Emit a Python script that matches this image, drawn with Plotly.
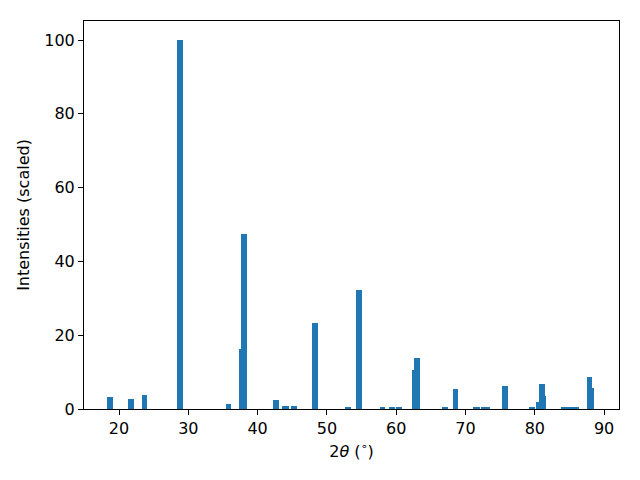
import plotly.graph_objects as go

two_theta = [18.70, 21.76, 23.68, 28.80, 35.80, 37.69, 38.04, 42.66, 43.96, 44.10,
             45.26, 48.29, 53.05, 54.64, 58.03, 59.40, 60.34, 62.72, 63.01, 67.05,
             68.56, 71.52, 71.70, 72.68, 73.11, 75.64, 79.61, 80.62, 80.98, 81.12,
             84.22, 84.73, 85.23, 85.96, 87.90, 88.12]
intensity = [3.2, 2.7, 3.8, 100.0, 1.4, 16.3, 47.4, 2.4, 0.9, 0.7,
             0.9, 23.3, 0.5, 32.2, 0.3, 0.6, 0.3, 10.6, 13.8, 0.3,
             5.4, 0.6, 0.4, 0.3, 0.3, 6.2, 0.3, 1.9, 6.8, 3.5,
             0.3, 0.3, 0.3, 0.3, 8.7, 5.7]
x_ticks = [20, 30, 40, 50, 60, 70, 80, 90]
y_ticks = [0, 20, 40, 60, 80, 100]

fig = go.Figure()
fig.add_trace(go.Bar(x=two_theta, y=intensity, width=0.85,
                     marker=dict(color="#1f77b4", line=dict(width=0))))

axis_common = dict(showline=True, linecolor="black", linewidth=1, mirror=True,
                   ticks="outside", ticklen=5, tickwidth=1, tickcolor="black",
                   showgrid=False, zeroline=False, automargin=False,
                   tickfont=dict(family="DejaVu Sans", size=16, color="black"))
fig.update_layout(
    width=640, height=480,
    margin=dict(l=84, r=21, t=21, b=71),
    plot_bgcolor="white", paper_bgcolor="white",
    barmode="overlay", bargap=0, showlegend=False,
    font=dict(family="DejaVu Sans", size=16, color="black"),
    xaxis=dict(range=[14.95, 92.15], tickvals=x_ticks,
               title=dict(text="2<i>θ</i> (<sup>∘</sup>)", standoff=8,
                          font=dict(family="DejaVu Sans", size=16)),
               **axis_common),
    yaxis=dict(range=[0, 105.15], tickvals=y_ticks,
               title=dict(text="Intensities (scaled)", standoff=10,
                          font=dict(family="DejaVu Sans", size=16)),
               **axis_common),
)
fig.write_html("out.html", config={"displayModeBar": False},
               post_script="document.body.style.margin='0';")
